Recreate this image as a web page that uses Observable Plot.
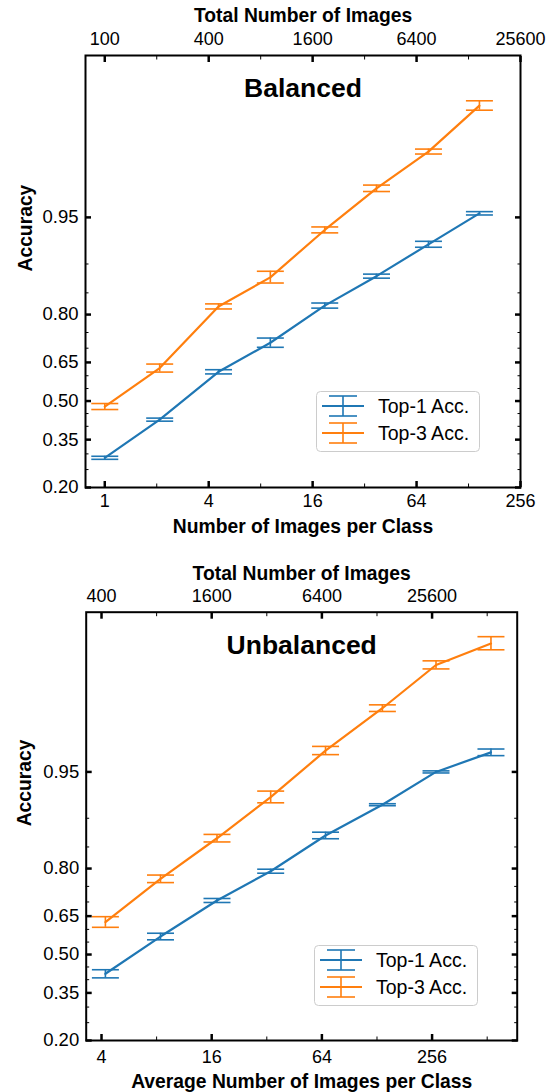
<!DOCTYPE html>
<html><head><meta charset="utf-8">
<script src="https://cdn.jsdelivr.net/npm/d3@7"></script>
<script src="https://cdn.jsdelivr.net/npm/@observablehq/plot@0.6"></script>
<style>
body{margin:0;background:#fff;}
#wrap{position:relative;width:558px;}
.panel{position:relative;width:558px;height:546px;}
.panel svg{display:block;}
</style></head><body><div id="wrap"></div>
<script>
// ---- data ----
const seriesNames = ["Top-1 Acc.", "Top-3 Acc."];
const titles = ["Balanced", "Unbalanced"];
const xLabels = ["Number of Images per Class", "Average Number of Images per Class"];
const topLabel = "Total Number of Images";
const yLabel = "Accuracy";

const balancedPerClass = [1, 2.08, 4.56, 9.1, 18.8, 37.5, 75, 148];
const balancedTop1 = [0.287, 0.426, 0.615, 0.718, 0.822, 0.881, 0.925, 0.953];
const balancedTop1Err = [0.005, 0.006, 0.008, 0.015, 0.006, 0.0034, 0.0033, 0.0012];
const balancedTop3 = [0.478, 0.629, 0.820, 0.879, 0.9395, 0.968, 0.982, 0.9913];
const balancedTop3Err = [0.012, 0.015, 0.006, 0.010, 0.0027, 0.0016, 0.0007, 0.00065];

const unbalancedPerClass = [4.2, 8.4, 17.1, 33.6, 67, 137, 269, 537];
const unbalancedTop1 = [0.423, 0.572, 0.705, 0.793, 0.872, 0.918, 0.950, 0.963];
const unbalancedTop1Err = [0.016, 0.013, 0.0067, 0.0053, 0.0059, 0.0012, 0.0008, 0.0019];
const unbalancedTop3 = [0.628, 0.772, 0.867, 0.9267, 0.964, 0.9815, 0.9907, 0.9934];
const unbalancedTop3Err = [0.020, 0.0107, 0.0070, 0.0064, 0.0023, 0.00097, 0.0006, 0.00069];

const yMajor = [0.20, 0.35, 0.50, 0.65, 0.80, 0.95];
const yMinor = [0.25, 0.30, 0.40, 0.45, 0.55, 0.60, 0.70, 0.75, 0.85, 0.90];
const balancedXMajor = [1, 4, 16, 64, 256];
const balancedXMinor = [2, 8, 32, 128];
const unbalancedXMajor = [4, 16, 64, 256];
const unbalancedXMinor = [8, 32, 128, 512];
const totalFactor = 100;

// ---- helpers ----
const logit = p => Math.log(p / (1 - p));
const expit = v => 1 / (1 + Math.exp(-v));
const FONT = "'Liberation Sans', Arial, Helvetica, sans-serif";
const BLUE = "#1f77b4", ORANGE = "#ff7f0e";
const rows = (xs, acc, err) => xs.map((x, i) => ({x, acc: acc[i], err: err[i]}));
const capSymbol = {draw(ctx) { ctx.moveTo(-13.5, 0); ctx.lineTo(13.5, 0); }};

function seriesMarks(data, color) {
  return [
    Plot.line(data, {x: "x", y: d => logit(d.acc), stroke: color, strokeWidth: 2.2}),
    Plot.ruleX(data, {x: "x", y1: d => logit(d.acc - d.err), y2: d => logit(d.acc + d.err), stroke: color, strokeWidth: 1.6}),
    Plot.dot(data, {x: "x", y: d => logit(d.acc - d.err), symbol: capSymbol, stroke: color, fill: "none", strokeWidth: 1.6}),
    Plot.dot(data, {x: "x", y: d => logit(d.acc + d.err), symbol: capSymbol, stroke: color, fill: "none", strokeWidth: 1.6})
  ];
}

function panel(c) {
  const yT = yMajor.map(logit), yM = yMinor.map(logit);
  const txt = (s, o) => Plot.text([s], {text: d => d, fontWeight: "bold", lineAnchor: "middle", ...o});
  return Plot.plot({
    width: 558, height: 546,
    marginTop: c.mt, marginBottom: c.mb, marginLeft: c.ml, marginRight: c.mr,
    style: {fontFamily: FONT, background: "white", color: "black", overflow: "visible"},
    x: {type: "log", base: 2, domain: c.xDomain, axis: null},
    y: {type: "linear", domain: [logit(0.2), c.yMax], axis: null},
    marks: [
      ...seriesMarks(c.top1, BLUE),
      ...seriesMarks(c.top3, ORANGE),
      // inward ticks (major)
      Plot.axisX({anchor: "bottom", ticks: c.xMajor, tickSize: 6, insetBottom: 6, strokeWidth: 2.5, fill: "none", label: null}),
      Plot.axisX({anchor: "top", ticks: c.xMajor, tickSize: 6, insetTop: 6, strokeWidth: 2.5, fill: "none", label: null}),
      Plot.axisY({anchor: "left", ticks: yT, tickSize: 6, insetLeft: 6, strokeWidth: 2.5, fill: "none", label: null}),
      Plot.axisY({anchor: "right", ticks: yT, tickSize: 6, insetRight: 6, strokeWidth: 2.5, fill: "none", label: null}),
      // inward ticks (minor)
      Plot.axisX({anchor: "bottom", ticks: c.xMinor, tickSize: 3.5, insetBottom: 3.5, strokeWidth: 1, fill: "none", label: null}),
      Plot.axisX({anchor: "top", ticks: c.xMinor, tickSize: 3.5, insetTop: 3.5, strokeWidth: 1, fill: "none", label: null}),
      Plot.axisY({anchor: "left", ticks: yM, tickSize: 3.5, insetLeft: 3.5, strokeWidth: 1, fill: "none", label: null}),
      Plot.axisY({anchor: "right", ticks: yM, tickSize: 3.5, insetRight: 3.5, strokeWidth: 1, fill: "none", label: null}),
      // tick labels
      Plot.axisX({anchor: "bottom", ticks: c.xMajor, tickSize: 0, tickPadding: c.bPad, fontSize: 18, label: null, tickFormat: d => String(d)}),
      Plot.axisX({anchor: "top", ticks: c.xMajor, tickSize: 0, tickPadding: c.tPad, fontSize: 18, label: null, tickFormat: d => String(d * totalFactor)}),
      Plot.axisY({anchor: "left", ticks: yT, tickSize: 0, tickPadding: 7, fontSize: 18.5, label: null, tickFormat: v => expit(v).toFixed(2)}),
      Plot.frame({stroke: "black", strokeWidth: 2}),
      // texts
      txt(c.title, {frameAnchor: "top", dy: 33.5, fontSize: 26.5}),
      txt(topLabel, {frameAnchor: "top", dy: c.topLabelDy, fontSize: 19.3}),
      txt(c.xLabel, {frameAnchor: "bottom", dy: c.bottomLabelDy, fontSize: 19.3}),
      txt(yLabel, {frameAnchor: "left", dx: c.yLabelDx, rotate: -90, fontSize: 19.3})
    ]
  });
}

function legend(left, top) {
  const w = 164, h = 61;
  const items = [[seriesNames[0], BLUE, 15], [seriesNames[1], ORANGE, 42]];
  let s = `<svg width="${w}" height="${h}" style="position:absolute;left:${left}px;top:${top}px;font-family:${FONT}">`;
  s += `<rect x="0.5" y="0.5" width="${w - 1}" height="${h - 1}" rx="4" fill="white" fill-opacity="0.8" stroke="#cccccc" stroke-width="1"/>`;
  for (const [name, col, y] of items) {
    s += `<line x1="6" x2="48" y1="${y}" y2="${y}" stroke="${col}" stroke-width="2.2"/>`;
    s += `<line x1="27" x2="27" y1="${y - 10}" y2="${y + 10}" stroke="${col}" stroke-width="1.6"/>`;
    s += `<line x1="13" x2="41" y1="${y - 10}" y2="${y - 10}" stroke="${col}" stroke-width="1.6"/>`;
    s += `<line x1="13" x2="41" y1="${y + 10}" y2="${y + 10}" stroke="${col}" stroke-width="1.6"/>`;
    s += `<text x="62" y="${y + 7}" font-size="19.5" fill="black">${name}</text>`;
  }
  return s + `</svg>`;
}

const wrap = document.getElementById("wrap");
const configs = [
  {
    title: titles[0], xLabel: xLabels[0],
    xDomain: [Math.pow(2, -0.371), 256], yMax: 5.54,
    xMajor: balancedXMajor, xMinor: balancedXMinor,
    mt: 55, mb: 59, ml: 85, mr: 38,
    tPad: 10.5, bPad: 6.4, topLabelDy: -39.5, bottomLabelDy: 39.7, yLabelDx: -60,
    top1: rows(balancedPerClass, balancedTop1, balancedTop1Err),
    top3: rows(balancedPerClass, balancedTop3, balancedTop3Err),
    legend: [315.7, 390.7]
  },
  {
    title: titles[1], xLabel: xLabels[1],
    xDomain: [Math.pow(2, 1.722), Math.pow(2, 9.545)], yMax: 5.52,
    xMajor: unbalancedXMajor, xMinor: unbalancedXMinor,
    mt: 65.7, mb: 52, ml: 85.7, mr: 41.3,
    tPad: 10.2, bPad: 9.5, topLabelDy: -38.4, bottomLabelDy: 41.7, yLabelDx: -61,
    top1: rows(unbalancedPerClass, unbalancedTop1, unbalancedTop1Err),
    top3: rows(unbalancedPerClass, unbalancedTop3, unbalancedTop3Err),
    legend: [314.3, 399]
  }
];
for (const c of configs) {
  const div = document.createElement("div");
  div.className = "panel";
  div.appendChild(panel(c));
  div.insertAdjacentHTML("beforeend", legend(c.legend[0], c.legend[1]));
  wrap.appendChild(div);
}
</script></body></html>
